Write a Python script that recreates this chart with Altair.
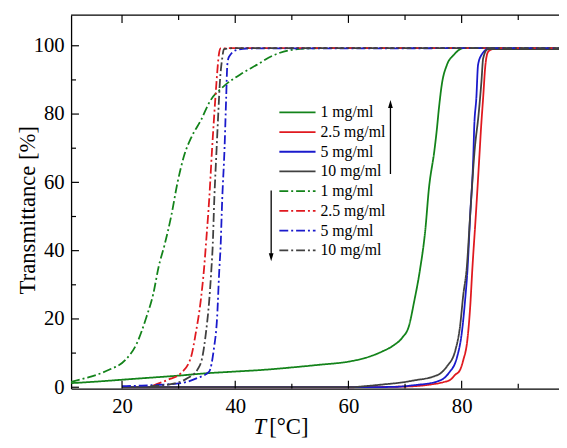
import altair as alt
import pandas as pd

# ---------------- data ----------------
KEYS = ["h1", "h2.5", "h5", "h10", "c1", "c2.5", "c5", "c10"]
LEGEND_LABELS = ["1 mg/ml", "2.5 mg/ml", "5 mg/ml", "10 mg/ml",
                 "1 mg/ml", "2.5 mg/ml", "5 mg/ml", "10 mg/ml"]

# heating (solid)
H1_T = [11, 15, 20, 25, 30, 35, 40, 45, 50, 55, 60, 63, 66, 68, 69.5, 70.7, 71.6, 72.6,
        73.6, 74.2, 75.2, 75.6, 76.0, 76.5, 77.4, 78.6, 80.3, 85, 90, 97.2]
H1_V = [1.2, 1.6, 2.2, 2.8, 3.4, 4.1, 4.6, 5.1, 5.8, 6.6, 7.5, 8.6, 10.5, 12.3, 14.5, 18.0, 25.0, 34.0,
        46.4, 57.9, 69.5, 75.2, 81.9, 88.7, 94.4, 97.3, 99.3, 99.3, 99.2, 99.2]

H25_T = [20, 40, 60, 70, 74.5, 76.8, 78.0, 78.9, 79.7, 80.3, 81.0, 81.5, 81.9, 82.5,
         83.2, 83.4, 83.8, 84.2, 84.7, 85.5, 90, 97.2]
H25_V = [0, 0, 0, 0.2, 0.8, 1.5, 2.2, 3.7, 5.0, 8.0, 13.7, 23.3, 34.9, 50.2,
         69.5, 75.2, 84.8, 94.4, 98.3, 99.0, 99.0, 99.0]

H5_T = [20, 40, 60, 68, 71.6, 75.7, 77.7, 79.2, 80.0, 80.6, 81.05, 81.5, 82.1, 82.2,
        82.6, 82.9, 83.5, 84.7, 90, 97.2]
H5_V = [0, 0, 0, 0.1, 0.6, 1.7, 4.1, 8.9, 15.6, 25.3, 34.9, 50.2, 69.5, 75.2,
        84.8, 94.4, 97.3, 99.0, 99.0, 99.0]

H10_T = [20, 40, 60, 62.9, 66, 69.8, 71.6, 75.1, 76.2, 77.4, 78.9, 79.7, 80.3, 80.9,
         81.5, 82.3, 83.0, 83.5, 83.8, 84.6, 90, 97.2]
H10_V = [0, 0, 0, 0.3, 0.8, 1.5, 2.0, 3.2, 4.0, 6.1, 10.9, 17.6, 27.2, 34.9,
         50.2, 69.5, 80.0, 89.6, 96.3, 99.0, 99.0, 99.0]

# cooling (dash-dot)
C1_T = [11, 13.6, 17.7, 20.6, 22.6, 24.3, 25.5, 26.5, 27.5, 28.7, 29.8, 31.0, 32.2,
        33.9, 35.6, 38.0, 40.9, 43.8, 46.5, 50.0, 55.0, 97.2]
C1_V = [1.6, 2.7, 5.1, 8.0, 12.8, 20.5, 27.2, 35.5, 41.6, 50.2, 59.9, 68.0, 73.0,
        78.1, 83.9, 88.2, 91.6, 94.4, 97.0, 98.8, 99.3, 99.3]

C25_T = [25.5, 28.1, 30.4, 32.2, 33.0, 33.9, 34.5, 34.9, 35.4, 35.9, 36.3, 36.7,
         37.1, 37.4, 40, 97.2]
C25_V = [0.5, 2.2, 4.1, 8.9, 15.6, 25.3, 34.9, 43.5, 55.0, 69.5, 80.0, 89.6,
         97.3, 99.2, 99.3, 99.3]

C5_T = [20, 23.5, 30.4, 33.3, 35.4, 36.2, 36.8, 37.2, 37.4, 37.7, 38.1, 38.4,
        38.6, 38.9, 40.3, 42, 97.2]
C5_V = [0.3, 0.5, 1.2, 2.7, 4.6, 10.9, 20.5, 34.9, 40.6, 55.0, 69.5, 84.8,
        94.4, 96.8, 98.8, 99.2, 99.3]

C10_T = [25, 29.3, 31.6, 33.3, 34.2, 34.8, 35.4, 35.8, 36.0, 36.3, 36.7, 37.0,
         37.3, 37.7, 38.0, 40, 97.2]
C10_V = [0.3, 1.1, 2.7, 5.1, 8.9, 15.6, 25.3, 34.9, 40.6, 55.0, 69.5, 80.0,
         89.6, 96.3, 99.0, 99.3, 99.3]

X_LABELS = [20, 40, 60, 80]
X_MINOR = [30, 50, 70, 90]
Y_LABELS = [0, 20, 40, 60, 80, 100]
Y_MINOR = [10, 30, 50, 70, 90]

# ---------------- styling ----------------
GREEN, RED, BLUE, GRAY = "#13831a", "#e0191f", "#1a1acc", "#404040"
COLORS = [GREEN, RED, BLUE, GRAY, GREEN, RED, BLUE, GRAY]
SOLID, DASHDOT = [1, 0], [9, 3, 2, 3]
DASHES = [SOLID] * 4 + [DASHDOT] * 4
FONT = "Liberation Serif, Times New Roman, serif"
W, H = 495, 379

series = [H1_T, H25_T, H5_T, H10_T, C1_T, C25_T, C5_T, C10_T]
values = [H1_V, H25_V, H5_V, H10_V, C1_V, C25_V, C5_V, C10_V]
rows = []
for k, ts, vs in zip(KEYS, series, values):
    for t, v in zip(ts, vs):
        rows.append({"s": k, "T": t, "V": v})
df = pd.DataFrame(rows)

xs = alt.Scale(domain=[11, 97.2], nice=False, zero=False)
ys = alt.Scale(domain=[-0.4, 109], nice=False, zero=False)

lines = alt.Chart(df).mark_line(strokeWidth=1.8, clip=True, interpolate="monotone").encode(
    x=alt.X("T:Q", scale=xs, title=None,
            axis=alt.Axis(values=X_LABELS, ticks=False, grid=False, labelPadding=7,
                          domainColor="black", domainWidth=1.3, labelOverlap=False,
                          labelFont=FONT, labelFontSize=21, labelColor="black")),
    y=alt.Y("V:Q", scale=ys, title=None,
            axis=alt.Axis(values=Y_LABELS, ticks=False, grid=False, labelPadding=7,
                          domainColor="black", domainWidth=1.3, labelOverlap=False,
                          labelFont=FONT, labelFontSize=21, labelColor="black")),
    color=alt.Color("s:N", scale=alt.Scale(domain=KEYS, range=COLORS), legend=None),
    strokeDash=alt.StrokeDash("s:N", scale=alt.Scale(domain=KEYS, range=DASHES), legend=None),
    detail="s:N",
)

layers = [lines]

# inward ticks
xmaj = pd.DataFrame({"T": X_LABELS})
xmin = pd.DataFrame({"T": X_MINOR})
ymaj = pd.DataFrame({"V": Y_LABELS})
ymin = pd.DataFrame({"V": Y_MINOR})
for d, ln in [(xmaj, 8), (xmin, 5)]:
    layers.append(alt.Chart(d).mark_rule(color="black", strokeWidth=1.2).encode(
        x=alt.X("T:Q", scale=xs), y=alt.value(H), y2=alt.value(H - ln)))
    layers.append(alt.Chart(d).mark_rule(color="black", strokeWidth=1.2).encode(
        x=alt.X("T:Q", scale=xs), y=alt.value(0), y2=alt.value(ln)))
for d, ln in [(ymaj, 8), (ymin, 5)]:
    layers.append(alt.Chart(d).mark_rule(color="black", strokeWidth=1.2).encode(
        y=alt.Y("V:Q", scale=ys), x=alt.value(0), x2=alt.value(ln)))

# top frame line
layers.append(alt.Chart(pd.DataFrame({"a": [0]})).mark_rule(color="black", strokeWidth=1.3).encode(
    x=alt.value(0), x2=alt.value(W), y=alt.value(0)))

# legend (drawn manually)
LEG_X0, LEG_X1, LEG_TX, LEG_Y0, LEG_DY = 211.3, 248, 253, 98.7, 20
for i, (lab, col, dash) in enumerate(zip(LEGEND_LABELS, COLORS, DASHES)):
    yy = LEG_Y0 + LEG_DY * i
    d = pd.DataFrame({"label": [lab]})
    layers.append(alt.Chart(d).mark_rule(color=col, strokeWidth=1.8, strokeDash=dash).encode(
        x=alt.value(LEG_X0), x2=alt.value(LEG_X1), y=alt.value(yy)))
    layers.append(alt.Chart(d).mark_text(font=FONT, fontSize=16, align="left", baseline="middle",
                                         color="black").encode(
        text="label:N", x=alt.value(LEG_TX), y=alt.value(yy)))

# arrows
one = pd.DataFrame({"a": [0]})
layers.append(alt.Chart(one).mark_rule(color="black", strokeWidth=1.3).encode(
    x=alt.value(324), y=alt.value(161.3), y2=alt.value(92)))
layers.append(alt.Chart(one).mark_point(shape="M0,-1L0.6,1L-0.6,1Z", filled=True, color="black",
                                         size=64, opacity=1).encode(
    x=alt.value(324), y=alt.value(90.3)))
layers.append(alt.Chart(one).mark_rule(color="black", strokeWidth=1.3).encode(
    x=alt.value(203), y=alt.value(178), y2=alt.value(244)))
layers.append(alt.Chart(one).mark_point(shape="M0,1L0.6,-1L-0.6,-1Z", filled=True, color="black",
                                         size=64, opacity=1).encode(
    x=alt.value(203), y=alt.value(245.7)))

# axis titles
layers.append(alt.Chart(pd.DataFrame({"t": ["Transmittance [%]"]})).mark_text(
    font=FONT, fontSize=23, angle=270, align="center", baseline="middle", color="black").encode(
    text="t:N", x=alt.value(-44), y=alt.value(198)))
layers.append(alt.Chart(pd.DataFrame({"t": ["T"]})).mark_text(
    font=FONT, fontSize=23, fontStyle="italic", align="left", baseline="alphabetic", color="black").encode(
    text="t:N", x=alt.value(185), y=alt.value(425)))
layers.append(alt.Chart(pd.DataFrame({"t": ["[°C]"]})).mark_text(
    font=FONT, fontSize=23, align="left", baseline="alphabetic", color="black").encode(
    text="t:N", x=alt.value(201), y=alt.value(425)))

chart = alt.layer(*layers).properties(
    width=W, height=H,
    padding={"left": 64, "top": 4, "right": 0, "bottom": 49},
    autosize=alt.AutoSizeParams(type="none"),
).configure(font=FONT).configure_view(stroke=None).configure_axis(
    labelFont=FONT, labelFontSize=21, labelColor="black"
)

chart.save("out.html", embed_options={"renderer": "svg", "actions": False})
